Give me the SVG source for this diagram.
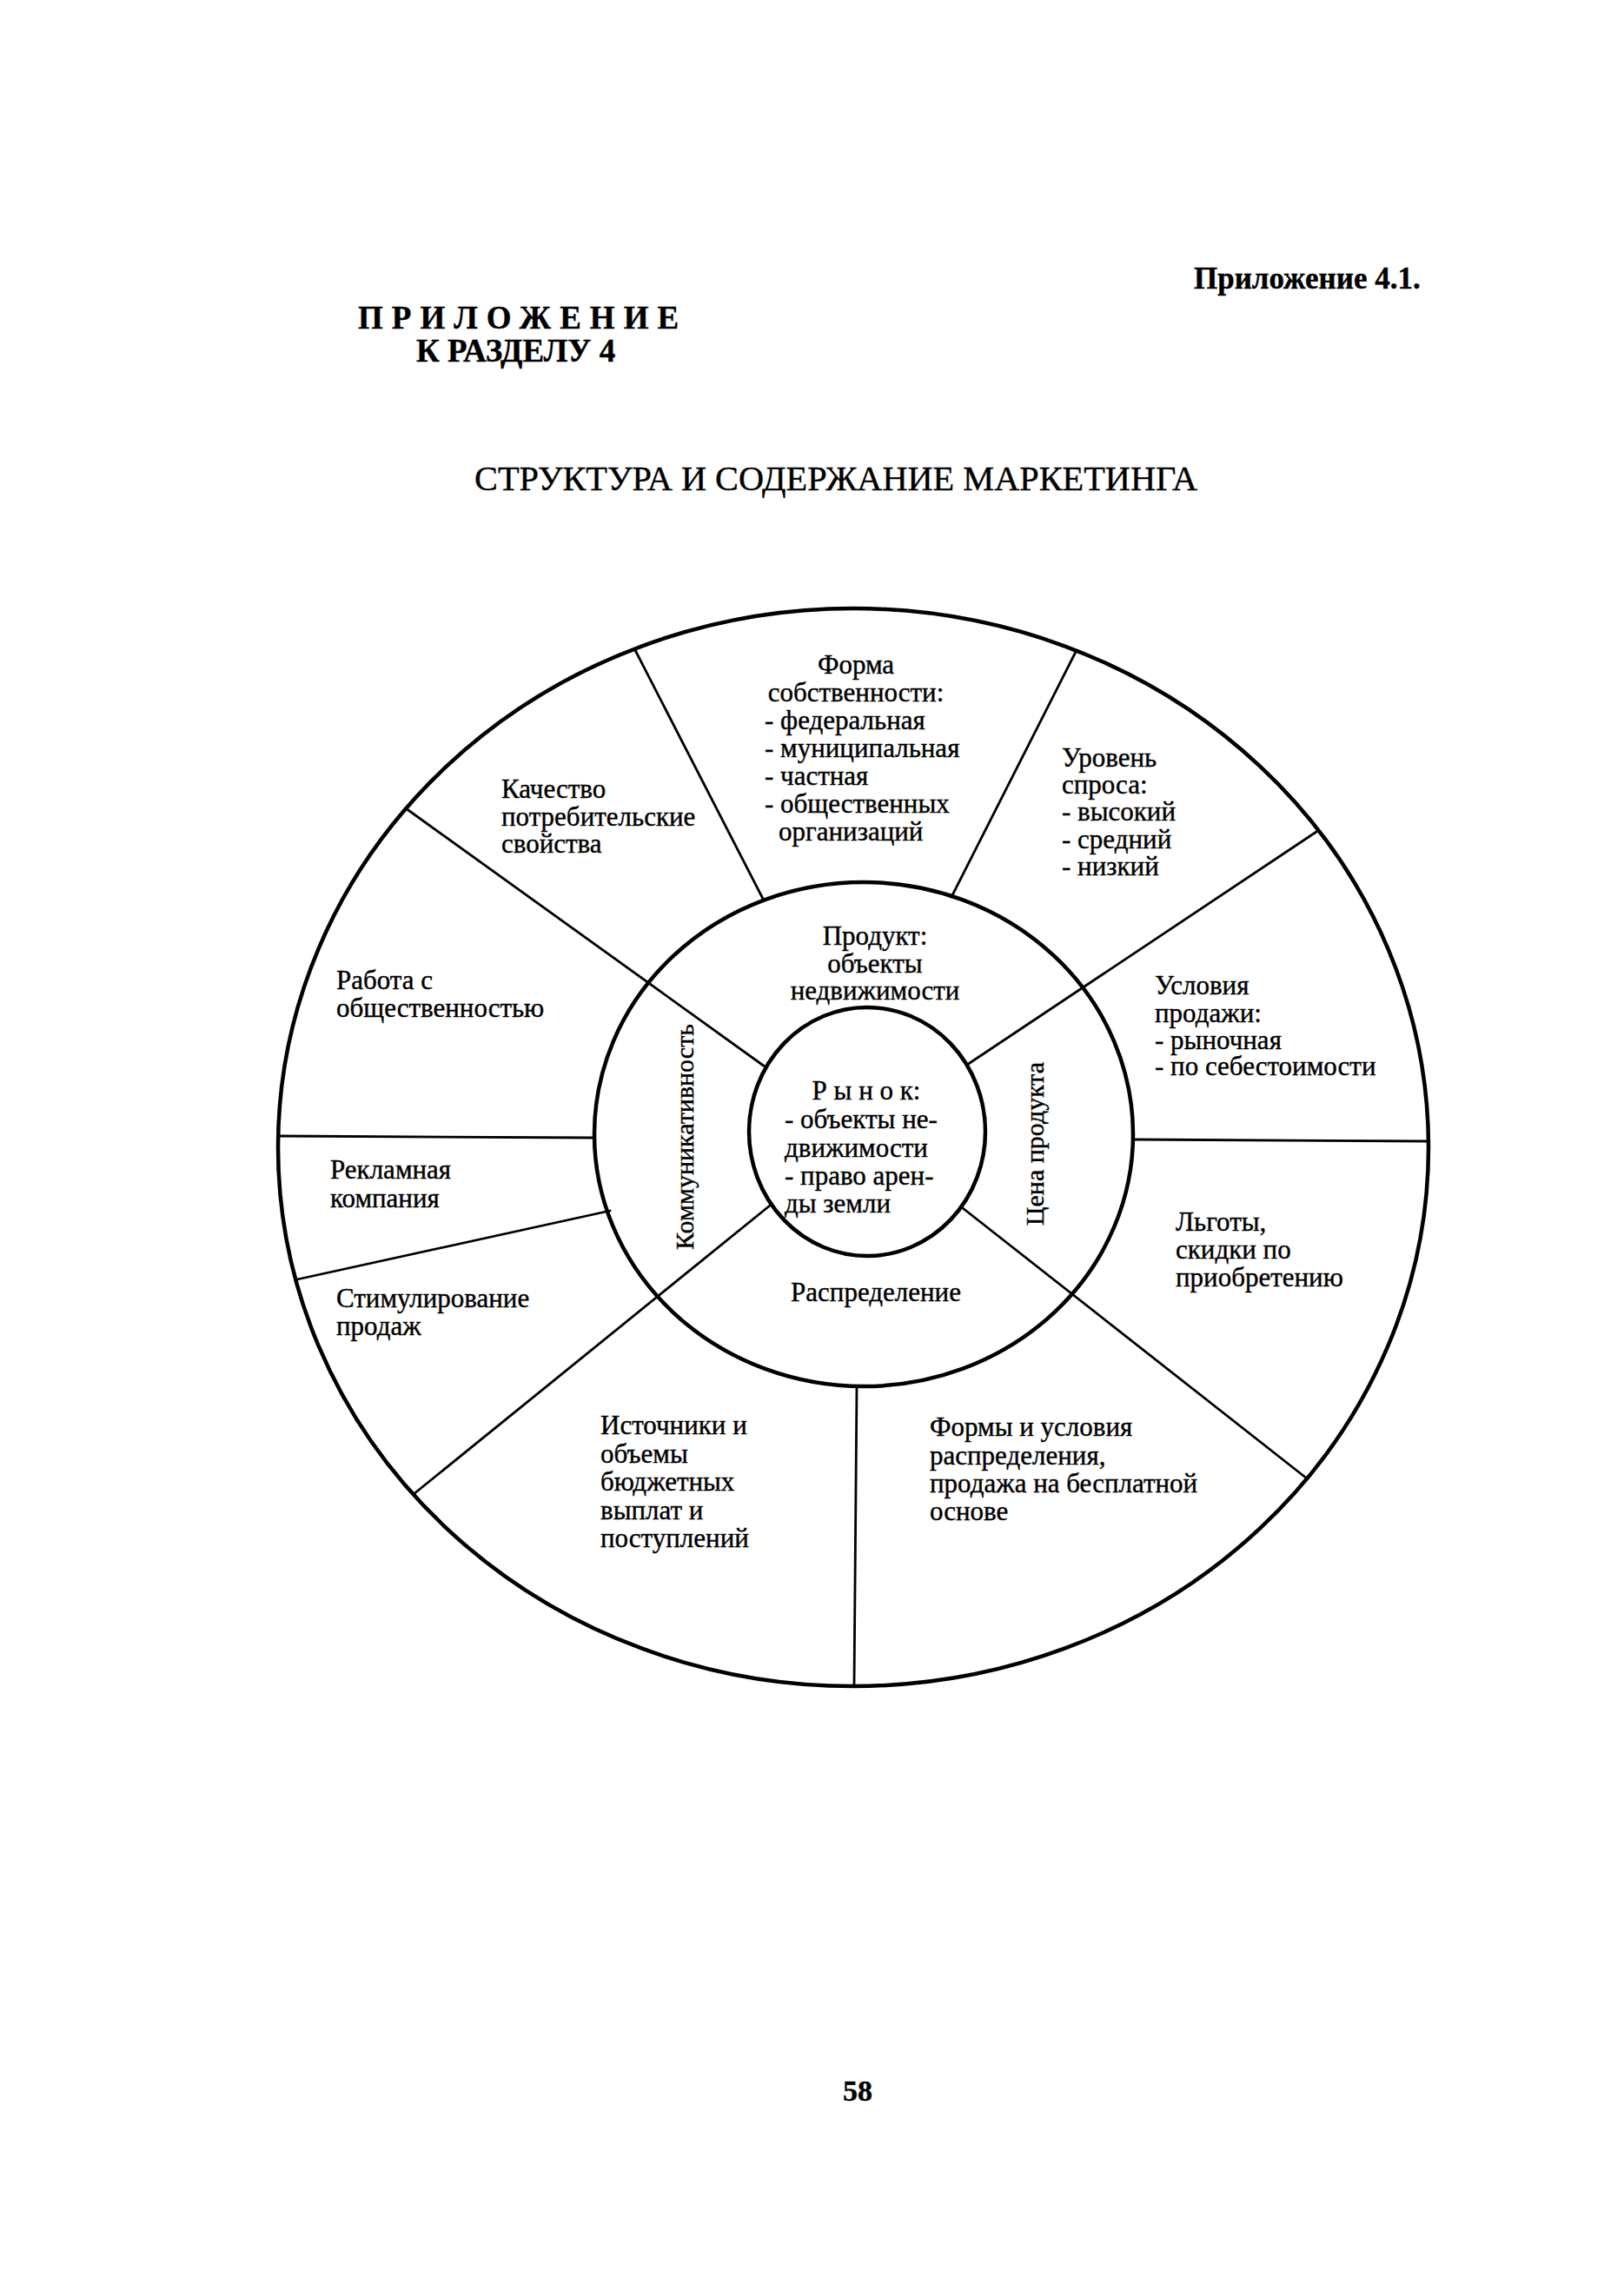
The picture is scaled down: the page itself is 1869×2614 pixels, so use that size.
<svg xmlns="http://www.w3.org/2000/svg" width="1869" height="2614" viewBox="0 0 1869 2614">
<style>
.bg{fill:#fff}
.ring{fill:none;stroke:#000;stroke-width:4.5}
.spoke{fill:none;stroke:#000;stroke-width:2.8;stroke-linecap:round}
text{font-family:"Liberation Serif","Times New Roman",serif;fill:#000;stroke:#000;stroke-width:0.4}
.t{font-size:31px}
.r{font-size:30px}
.c{text-anchor:middle}
.hb{font-weight:bold}
</style>
<rect class="bg" x="0" y="0" width="1869" height="2614"/>
<g id="header">
<text class="hb" x="1374" y="332" font-size="35">Приложение 4.1.</text>
<text class="hb" x="412" y="378" font-size="37" letter-spacing="10">ПРИЛОЖЕНИЕ</text>
<text class="hb" x="479" y="416" font-size="37">К РАЗДЕЛУ 4</text>
<text x="546" y="564" font-size="40" textLength="832" lengthAdjust="spacingAndGlyphs">СТРУКТУРА И СОДЕРЖАНИЕ МАРКЕТИНГА</text>
</g>
<g id="rings">
<ellipse class="ring" cx="982" cy="1320" rx="662" ry="620"/>
<ellipse class="ring" cx="994" cy="1305" rx="310" ry="290"/>
<ellipse class="ring" cx="998" cy="1302" rx="136" ry="143"/>
</g>
<g id="connectors">
<line class="spoke" x1="731" y1="748" x2="878" y2="1034"/>
<line class="spoke" x1="1238" y1="750" x2="1095" y2="1032"/>
<line class="spoke" x1="467" y1="930" x2="880" y2="1227"/>
<line class="spoke" x1="1515" y1="957" x2="1113" y2="1225"/>
<line class="spoke" x1="320" y1="1307" x2="684" y2="1309"/>
<line class="spoke" x1="1304" y1="1311" x2="1643" y2="1313"/>
<line class="spoke" x1="342" y1="1472" x2="702" y2="1393"/>
<line class="spoke" x1="886" y1="1387" x2="476" y2="1719"/>
<line class="spoke" x1="1108" y1="1390" x2="1504" y2="1701"/>
<line class="spoke" x1="986" y1="1595" x2="983" y2="1940"/>
</g>
<g id="node-kachestvo" class="t">
<text x="577" y="918">Качество</text>
<text x="577" y="950">потребительские</text>
<text x="577" y="981">свойства</text>
</g>
<g id="node-forma" class="t">
<text class="c" x="985" y="775">Форма</text>
<text class="c" x="985" y="807">собственности:</text>
<text x="880" y="839">- федеральная</text>
<text x="880" y="871">- муниципальная</text>
<text x="880" y="903">- частная</text>
<text x="880" y="935">- общественных</text>
<text x="896" y="967">организаций</text>
</g>
<g id="node-uroven" class="t">
<text x="1222" y="882">Уровень</text>
<text x="1222" y="913">спроса:</text>
<text x="1222" y="944">- высокий</text>
<text x="1222" y="976">- средний</text>
<text x="1222" y="1007">- низкий</text>
</g>
<g id="node-rabota" class="t">
<text x="387" y="1138">Работа  с</text>
<text x="387" y="1170">общественностью</text>
</g>
<g id="node-produkt" class="t">
<text class="c" x="1007" y="1087">Продукт:</text>
<text class="c" x="1007" y="1119">объекты</text>
<text class="c" x="1007" y="1150">недвижимости</text>
</g>
<g id="node-usloviya" class="t">
<text x="1329" y="1144">Условия</text>
<text x="1329" y="1176">продажи:</text>
<text x="1329" y="1207">- рыночная</text>
<text x="1329" y="1237">- по себестоимости</text>
</g>
<g id="node-reklama" class="t">
<text x="380" y="1356">Рекламная</text>
<text x="380" y="1389">компания</text>
</g>
<g id="node-rynok" class="t">
<text class="c" x="997" y="1265">Р ы н о к:</text>
<text x="903" y="1298">- объекты не-</text>
<text x="903" y="1331">движимости</text>
<text x="903" y="1363">- право арен-</text>
<text x="903" y="1395">ды земли</text>
</g>
<g id="node-lgoty" class="t">
<text x="1353" y="1416">Льготы,</text>
<text x="1353" y="1448">скидки по</text>
<text x="1353" y="1480">приобретению</text>
</g>
<g id="node-stimul" class="t">
<text x="387" y="1504">Стимулирование</text>
<text x="387" y="1536">продаж</text>
</g>
<g id="node-raspred" class="t">
<text class="c" x="1008" y="1497">Распределение</text>
</g>
<g id="node-istochniki" class="t">
<text x="691" y="1650">Источники и</text>
<text x="691" y="1683">объемы</text>
<text x="691" y="1715">бюджетных</text>
<text x="691" y="1748">выплат и</text>
<text x="691" y="1780">поступлений</text>
</g>
<g id="node-formy" class="t">
<text x="1070" y="1652">Формы  и  условия</text>
<text x="1070" y="1685">распределения,</text>
<text x="1070" y="1717">продажа на бесплатной</text>
<text x="1070" y="1749">основе</text>
</g>
<g id="node-kommunik" class="r">
<text class="c" transform="translate(798,1308) rotate(-90)" x="0" y="0">Коммуникативность</text>
</g>
<g id="node-tsena" class="r">
<text class="c" transform="translate(1201,1316) rotate(-90)" x="0" y="0">Цена продукта</text>
</g>
<g id="footer">
<text class="hb c" x="987" y="2417" font-size="34">58</text>
</g>
</svg>
